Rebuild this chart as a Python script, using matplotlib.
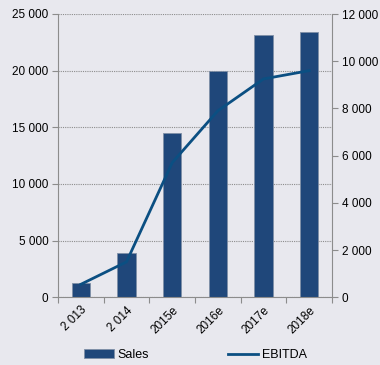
import numpy as np
import matplotlib.pyplot as plt
from matplotlib.ticker import FuncFormatter, FixedLocator

years = ['2 013', '2 014', '2015e', '2016e', '2017e', '2018e']
sales = [1300, 3900, 14500, 20000, 23150, 23450]
ebitda = [550, 1500, 5700, 7900, 9250, 9600]

bg = '#E8E8EE'
bar_color = '#1F477A'
line_color = '#0B4F82'
axis_color = '#8C8C8C'

plt.rcParams['font.family'] = ['Liberation Sans', 'DejaVu Sans']
plt.rcParams['font.size'] = 8.5

def thousands(v, pos):
    return '{:,.0f}'.format(v).replace(',', ' ')

fig = plt.figure(figsize=(3.8, 3.65), dpi=100, facecolor=bg)
ax = fig.add_axes([58 / 380, 1 - 297.3 / 365, 274 / 380, 283.3 / 365])
ax.set_facecolor(bg)

x = np.arange(len(years))
ax.bar(x, sales, width=0.4, color=bar_color, edgecolor='#7F8FA6', linewidth=0.6,
       label='Sales', zorder=2)
ax.set_xlim(-0.5, len(years) - 0.5)
ax.set_ylim(0, 25000)
ax.set_yticks(np.arange(0, 25001, 5000))
ax.yaxis.set_major_formatter(FuncFormatter(thousands))
ax.yaxis.grid(True, color='#8C8C8C', linestyle=(0, (1, 1)), linewidth=0.8, zorder=0)
ax.set_axisbelow(True)

ax.xaxis.set_major_locator(FixedLocator(np.arange(-0.5, len(years), 1.0)))
ax.xaxis.set_minor_locator(FixedLocator(x))
ax.set_xticklabels([])
ax.set_xticklabels(years, minor=True, rotation=45, ha='right', va='top',
                   rotation_mode='anchor')
ax.tick_params(axis='x', which='minor', length=0, pad=5)
ax.tick_params(axis='x', which='major', length=4, color=axis_color)
ax.tick_params(axis='y', length=4, color=axis_color, pad=3)

ax2 = ax.twinx()
ax2.plot(x, ebitda, color=line_color, linewidth=2, label='EBITDA', zorder=3)
ax2.set_ylim(0, 12000)
ax2.set_yticks(np.arange(0, 12001, 2000))
ax2.yaxis.set_major_formatter(FuncFormatter(thousands))
ax2.tick_params(axis='y', length=4, color=axis_color, pad=3)

for a in (ax, ax2):
    a.spines['top'].set_visible(False)
    for side in ('left', 'right', 'bottom'):
        a.spines[side].set_color(axis_color)
ax.spines['right'].set_visible(False)
ax2.spines['left'].set_visible(False)
ax2.spines['bottom'].set_visible(False)

h1, l1 = ax.get_legend_handles_labels()
h2, l2 = ax2.get_legend_handles_labels()
fig.legend(h1 + h2, l1 + l2, loc='center', ncol=2, frameon=False,
           bbox_to_anchor=(0.514, 10 / 365), columnspacing=6.3, handlelength=2.4,
           handletextpad=0.3, fontsize=9, borderpad=0, borderaxespad=0)

fig.savefig('out.png', dpi=100, facecolor=bg)
